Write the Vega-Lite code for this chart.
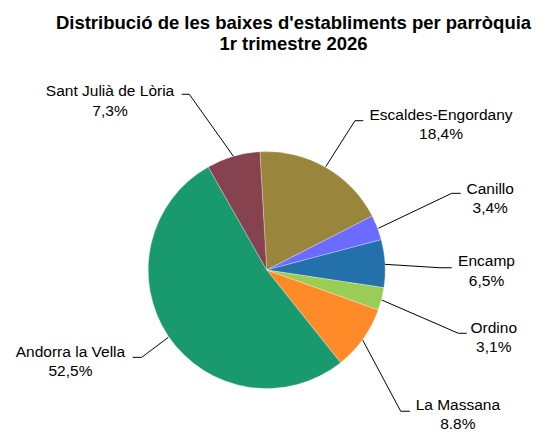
{
  "$schema": "https://vega.github.io/schema/vega-lite/v6.json",
  "width": 548,
  "height": 372,
  "padding": {"top": 60, "left": 0, "right": 0, "bottom": 0},
  "autosize": {"type": "none"},
  "background": "white",
  "config": {"view": {"stroke": null}},
  "title": {
    "text": ["Distribució de les baixes d'establiments per parròquia", "1r trimestre 2026"],
    "font": "Liberation Sans",
    "fontSize": 18.5,
    "fontWeight": "bold",
    "color": "#000000",
    "anchor": "middle",
    "frame": "group",
    "lineHeight": 20.5,
    "offset": 7,
    "dx": 19.5
  },
  "datasets": {
    "slices": [
      {"parroquia": "Escaldes-Engordany", "share": 18.4, "pct": "18,4%", "ord": 1},
      {"parroquia": "Canillo", "share": 3.4, "pct": "3,4%", "ord": 2},
      {"parroquia": "Encamp", "share": 6.5, "pct": "6,5%", "ord": 3},
      {"parroquia": "Ordino", "share": 3.1, "pct": "3,1%", "ord": 4},
      {"parroquia": "La Massana", "share": 8.8, "pct": "8.8%", "ord": 5},
      {"parroquia": "Andorra la Vella", "share": 52.5, "pct": "52,5%", "ord": 6},
      {"parroquia": "Sant Julià de Lòria", "share": 7.3, "pct": "7,3%", "ord": 7}
    ],
    "labels": [
      {"parroquia": "Escaldes-Engordany", "pct": "18,4%", "lx": 1.471, "ly": 1.224},
      {"parroquia": "Canillo", "pct": "3,4%", "lx": 1.886, "ly": 0.601},
      {"parroquia": "Encamp", "pct": "6,5%", "lx": 1.855, "ly": -0.011},
      {"parroquia": "Ordino", "pct": "3,1%", "lx": 1.916, "ly": -0.572},
      {"parroquia": "La Massana", "pct": "8.8%", "lx": 1.613, "ly": -1.222},
      {"parroquia": "Andorra la Vella", "pct": "52,5%", "lx": -1.656, "ly": -0.776},
      {"parroquia": "Sant Julià de Lòria", "pct": "7,3%", "lx": -1.322, "ly": 1.424}
    ],
    "leaders": [
      {"parroquia": "Escaldes-Engordany", "seq": 1, "ux": 0.498, "uy": 0.872},
      {"parroquia": "Escaldes-Engordany", "seq": 2, "ux": 0.745, "uy": 1.260},
      {"parroquia": "Escaldes-Engordany", "seq": 3, "ux": 0.815, "uy": 1.260},
      {"parroquia": "Canillo", "seq": 1, "ux": 0.942, "uy": 0.352},
      {"parroquia": "Canillo", "seq": 2, "ux": 1.561, "uy": 0.647},
      {"parroquia": "Canillo", "seq": 3, "ux": 1.637, "uy": 0.647},
      {"parroquia": "Encamp", "seq": 1, "ux": 0.998, "uy": 0.048},
      {"parroquia": "Encamp", "seq": 2, "ux": 1.462, "uy": 0.019},
      {"parroquia": "Encamp", "seq": 3, "ux": 1.561, "uy": 0.019},
      {"parroquia": "Ordino", "seq": 1, "ux": 0.970, "uy": -0.253},
      {"parroquia": "Ordino", "seq": 2, "ux": 1.617, "uy": -0.534},
      {"parroquia": "Ordino", "seq": 3, "ux": 1.688, "uy": -0.534},
      {"parroquia": "La Massana", "seq": 1, "ux": 0.810, "uy": -0.591},
      {"parroquia": "La Massana", "seq": 2, "ux": 1.131, "uy": -1.192},
      {"parroquia": "La Massana", "seq": 3, "ux": 1.209, "uy": -1.192},
      {"parroquia": "Andorra la Vella", "seq": 1, "ux": -0.830, "uy": -0.568},
      {"parroquia": "Andorra la Vella", "seq": 2, "ux": -1.055, "uy": -0.737},
      {"parroquia": "Andorra la Vella", "seq": 3, "ux": -1.131, "uy": -0.737},
      {"parroquia": "Sant Julià de Lòria", "seq": 1, "ux": -0.281, "uy": 0.960},
      {"parroquia": "Sant Julià de Lòria", "seq": 2, "ux": -0.653, "uy": 1.483},
      {"parroquia": "Sant Julià de Lòria", "seq": 3, "ux": -0.717, "uy": 1.483}
    ]
  },
  "layer": [
    {
      "data": {"name": "slices"},
      "mark": {"type": "arc", "outerRadius": 118.5, "stroke": "#ffffff", "strokeWidth": 0.3},
      "encoding": {
        "theta": {"field": "share", "type": "quantitative", "stack": true, "scale": {"range": [-0.0576, 6.2256]}},
        "order": {"field": "ord", "type": "quantitative"},
        "color": {
          "field": "parroquia", "type": "nominal", "legend": null,
          "scale": {
            "domain": ["Escaldes-Engordany", "Canillo", "Encamp", "Ordino", "La Massana", "Andorra la Vella", "Sant Julià de Lòria"],
            "range": ["#9A853C", "#6B6BFF", "#2470AA", "#9ACD56", "#FF8A27", "#18996E", "#86424F"]
          }
        },
        "x": {"datum": 0, "type": "quantitative", "axis": null, "scale": {"domain": [-2.2506, 2.3738], "nice": false, "zero": false}},
        "y": {"datum": 0, "type": "quantitative", "axis": null, "scale": {"domain": [-1.3671, 1.7722], "nice": false, "zero": false}}
      }
    },
    {
      "data": {"name": "leaders"},
      "mark": {"type": "line", "color": "#000000", "strokeWidth": 1},
      "encoding": {
        "x": {"field": "ux", "type": "quantitative", "axis": null},
        "y": {"field": "uy", "type": "quantitative", "axis": null},
        "detail": {"field": "parroquia"},
        "order": {"field": "seq", "type": "quantitative"}
      }
    },
    {
      "data": {"name": "labels"},
      "mark": {"type": "text", "font": "Liberation Sans", "fontSize": 15.5, "color": "#000000", "align": "center", "baseline": "middle", "dy": -10},
      "encoding": {
        "x": {"field": "lx", "type": "quantitative", "axis": null},
        "y": {"field": "ly", "type": "quantitative", "axis": null},
        "text": {"field": "parroquia"}
      }
    },
    {
      "data": {"name": "labels"},
      "mark": {"type": "text", "font": "Liberation Sans", "fontSize": 15.5, "color": "#000000", "align": "center", "baseline": "middle", "dy": 9.5},
      "encoding": {
        "x": {"field": "lx", "type": "quantitative", "axis": null},
        "y": {"field": "ly", "type": "quantitative", "axis": null},
        "text": {"field": "pct"}
      }
    }
  ]
}
